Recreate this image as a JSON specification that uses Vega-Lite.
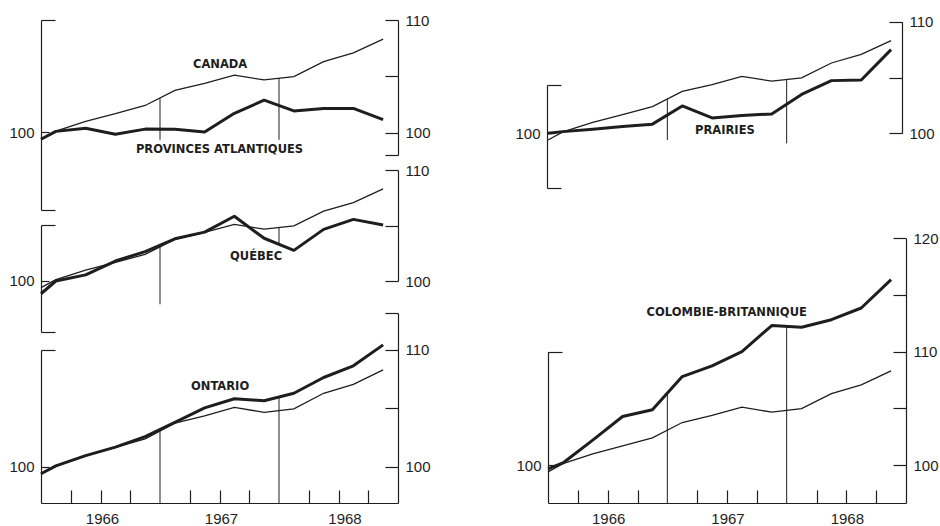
{
  "$schema": "https://vega.github.io/schema/vega-lite/v6.json",
  "width": 940,
  "height": 503,
  "autosize": {"type": "none"},
  "padding": {"left": 0, "top": 0, "right": 0, "bottom": 23},
  "background": "#ffffff",
  "config": {
    "view": {"stroke": null},
    "axis": {
      "grid": false,
      "domainColor": "#1e1e1e",
      "domainWidth": 1.2,
      "tickColor": "#1e1e1e",
      "tickWidth": 1.2,
      "labelColor": "#1e1e1e",
      "labelFont": "Liberation Sans",
      "labelFontSize": 15,
      "labelOverlap": false,
      "labelFlush": false,
      "labelBound": false
    },
    "line": {"color": "#1e1e1e"},
    "rule": {"color": "#1e1e1e"},
    "text": {"color": "#1e1e1e"}
  },
  "datasets": {
    "canada": [
      {"t": 0, "value": 99.4}, {"t": 0.5, "value": 100.12}, {"t": 1.5, "value": 100.98}, {"t": 2.5, "value": 101.68},
      {"t": 3.5, "value": 102.4}, {"t": 4.5, "value": 103.75}, {"t": 5.5, "value": 104.37}, {"t": 6.5, "value": 105.1},
      {"t": 7.5, "value": 104.67}, {"t": 8.5, "value": 104.97}, {"t": 9.5, "value": 106.3}, {"t": 10.5, "value": 107.07},
      {"t": 11.5, "value": 108.3}
    ],
    "regions": [
      {"panel": "atl", "t": 0, "value": 99.4}, {"panel": "atl", "t": 0.5, "value": 100.1}, {"panel": "atl", "t": 1.5, "value": 100.37},
      {"panel": "atl", "t": 2.5, "value": 99.85}, {"panel": "atl", "t": 3.5, "value": 100.3}, {"panel": "atl", "t": 4.5, "value": 100.29},
      {"panel": "atl", "t": 5.5, "value": 100.04}, {"panel": "atl", "t": 6.5, "value": 101.71}, {"panel": "atl", "t": 7.5, "value": 102.87},
      {"panel": "atl", "t": 8.5, "value": 101.92}, {"panel": "atl", "t": 9.5, "value": 102.14}, {"panel": "atl", "t": 10.5, "value": 102.14},
      {"panel": "atl", "t": 11.5, "value": 101.15},
      {"panel": "que", "t": 0, "value": 98.85}, {"panel": "que", "t": 0.5, "value": 100.0}, {"panel": "que", "t": 1.5, "value": 100.55},
      {"panel": "que", "t": 2.5, "value": 101.8}, {"panel": "que", "t": 3.5, "value": 102.65}, {"panel": "que", "t": 4.5, "value": 103.8},
      {"panel": "que", "t": 5.5, "value": 104.4}, {"panel": "que", "t": 6.5, "value": 105.83}, {"panel": "que", "t": 7.5, "value": 103.85},
      {"panel": "que", "t": 8.5, "value": 102.76}, {"panel": "que", "t": 9.5, "value": 104.65}, {"panel": "que", "t": 10.5, "value": 105.55},
      {"panel": "que", "t": 11.5, "value": 105.05},
      {"panel": "ont", "t": 0, "value": 99.42}, {"panel": "ont", "t": 0.5, "value": 100.1}, {"panel": "ont", "t": 1.5, "value": 100.97},
      {"panel": "ont", "t": 2.5, "value": 101.7}, {"panel": "ont", "t": 3.5, "value": 102.6}, {"panel": "ont", "t": 4.5, "value": 103.82},
      {"panel": "ont", "t": 5.5, "value": 105.05}, {"panel": "ont", "t": 6.5, "value": 105.83}, {"panel": "ont", "t": 7.5, "value": 105.66},
      {"panel": "ont", "t": 8.5, "value": 106.3}, {"panel": "ont", "t": 9.5, "value": 107.65}, {"panel": "ont", "t": 10.5, "value": 108.65},
      {"panel": "ont", "t": 11.5, "value": 110.44},
      {"panel": "pra", "t": 0, "value": 100.0}, {"panel": "pra", "t": 0.5, "value": 100.15}, {"panel": "pra", "t": 1.5, "value": 100.36},
      {"panel": "pra", "t": 2.5, "value": 100.6}, {"panel": "pra", "t": 3.5, "value": 100.82}, {"panel": "pra", "t": 4.5, "value": 102.45},
      {"panel": "pra", "t": 5.5, "value": 101.38}, {"panel": "pra", "t": 6.5, "value": 101.6}, {"panel": "pra", "t": 7.5, "value": 101.73},
      {"panel": "pra", "t": 8.5, "value": 103.48}, {"panel": "pra", "t": 9.5, "value": 104.72}, {"panel": "pra", "t": 10.5, "value": 104.78},
      {"panel": "pra", "t": 11.5, "value": 107.5},
      {"panel": "cb", "t": 0, "value": 99.65}, {"panel": "cb", "t": 0.5, "value": 100.18}, {"panel": "cb", "t": 1.5, "value": 102.2},
      {"panel": "cb", "t": 2.5, "value": 104.28}, {"panel": "cb", "t": 3.5, "value": 104.87}, {"panel": "cb", "t": 4.5, "value": 107.8},
      {"panel": "cb", "t": 5.5, "value": 108.75}, {"panel": "cb", "t": 6.5, "value": 110.0}, {"panel": "cb", "t": 7.5, "value": 112.3},
      {"panel": "cb", "t": 8.5, "value": 112.15}, {"panel": "cb", "t": 9.5, "value": 112.82}, {"panel": "cb", "t": 10.5, "value": 113.85},
      {"panel": "cb", "t": 11.5, "value": 116.35}
    ],
    "yearlines": [
      {"panel": "atl", "t": 4, "low": 99.35, "high": 103.05}, {"panel": "atl", "t": 8, "low": 99.35, "high": 104.83},
      {"panel": "que", "t": 4, "low": 97.9, "high": 103.2}, {"panel": "que", "t": 8, "low": 103.35, "high": 104.83},
      {"panel": "ont", "t": 4, "low": 96.923, "high": 103.25}, {"panel": "ont", "t": 8, "low": 96.923, "high": 105.95},
      {"panel": "pra", "t": 4, "low": 99.4, "high": 103.05}, {"panel": "pra", "t": 8, "low": 99.1, "high": 104.83},
      {"panel": "cb", "t": 4, "low": 96.648, "high": 106.3}, {"panel": "cb", "t": 8, "low": 96.648, "high": 112.25}
    ],
    "labels": [
      {"panel": "atl", "t": 6.02, "value": 106.0, "label": "CANADA"},
      {"panel": "atl", "t": 6.0, "value": 98.44, "label": "PROVINCES ATLANTIQUES"},
      {"panel": "que", "t": 7.23, "value": 102.16, "label": "QUÉBEC"},
      {"panel": "ont", "t": 6.02, "value": 106.86, "label": "ONTARIO"},
      {"panel": "pra", "t": 5.93, "value": 100.2, "label": "PRAIRIES"},
      {"panel": "cb", "t": 5.99, "value": 113.45, "label": "COLOMBIE-BRITANNIQUE"}
    ]
  },
  "resolve": {"scale": {"x": "independent", "y": "independent"}},
  "layer": [
    {
      "data": {"name": "regions"},
      "transform": [{"filter": "datum.panel === 'atl'"}],
      "mark": {"type": "line", "strokeWidth": 3, "strokeJoin": "round"},
      "encoding": {
        "x": {"field": "t", "type": "quantitative", "scale": {"domain": [0, 12], "range": [41, 398], "nice": false, "zero": false}, "axis": null},
        "y": {"field": "value", "type": "quantitative", "scale": {"domain": [93.11, 110], "range": [210, 20], "zero": false, "nice": false},
          "axis": {"orient": "left", "offset": -41, "values": [93.11, 100, 110], "title": null,
            "tickSize": {"condition": {"test": "datum.value === 100", "value": -8}, "value": -14},
            "labelPadding": 15, "labelExpr": "datum.value === 100 ? '100' : ''"}}
      }
    },
    {
      "data": {"name": "yearlines"},
      "transform": [{"filter": "datum.panel === 'atl'"}],
      "mark": {"type": "rule", "strokeWidth": 1},
      "encoding": {
        "x": {"field": "t", "type": "quantitative", "scale": {"domain": [0, 12], "range": [41, 398], "nice": false, "zero": false}, "axis": null},
        "y": {"field": "low", "type": "quantitative", "scale": {"domain": [93.11, 110], "range": [210, 20], "zero": false, "nice": false}, "axis": null},
        "y2": {"field": "high"}
      }
    },
    {
      "data": {"name": "labels"},
      "transform": [{"filter": "datum.panel === 'atl'"}],
      "mark": {"type": "text", "font": "DejaVu Sans", "fontWeight": "bold", "fontSize": 11.5, "align": "center", "baseline": "middle"},
      "encoding": {
        "x": {"field": "t", "type": "quantitative", "scale": {"domain": [0, 12], "range": [41, 398], "nice": false, "zero": false}, "axis": null},
        "y": {"field": "value", "type": "quantitative", "scale": {"domain": [93.11, 110], "range": [210, 20], "zero": false, "nice": false}, "axis": null},
        "text": {"field": "label"}
      }
    },
    {
      "data": {"name": "canada"},
      "mark": {"type": "line", "strokeWidth": 1.3},
      "encoding": {
        "x": {"field": "t", "type": "quantitative", "scale": {"domain": [0, 12], "range": [41, 398], "nice": false, "zero": false}, "axis": null},
        "y": {"field": "value", "type": "quantitative", "scale": {"domain": [98, 110], "range": [155, 20], "zero": false, "nice": false},
          "axis": {"orient": "right", "offset": -542, "values": [98, 100, 105, 110], "title": null, "tickSize": -13, "labelPadding": 20,
            "labelExpr": "datum.value === 100 || datum.value === 110 || datum.value === 120 ? format(datum.value, 'd') : ''"}}
      }
    },
    {
      "data": {"name": "regions"},
      "transform": [{"filter": "datum.panel === 'que'"}],
      "mark": {"type": "line", "strokeWidth": 3, "strokeJoin": "round"},
      "encoding": {
        "x": {"field": "t", "type": "quantitative", "scale": {"domain": [0, 12], "range": [41, 398], "nice": false, "zero": false}, "axis": null},
        "y": {"field": "value", "type": "quantitative", "scale": {"domain": [95.405, 105.045], "range": [332, 225], "zero": false, "nice": false},
          "axis": {"orient": "left", "offset": -41, "values": [95.405, 100, 105.045], "title": null,
            "tickSize": {"condition": {"test": "datum.value === 100", "value": -8}, "value": -14},
            "labelPadding": 15, "labelExpr": "datum.value === 100 ? '100' : ''"}}
      }
    },
    {
      "data": {"name": "yearlines"},
      "transform": [{"filter": "datum.panel === 'que'"}],
      "mark": {"type": "rule", "strokeWidth": 1},
      "encoding": {
        "x": {"field": "t", "type": "quantitative", "scale": {"domain": [0, 12], "range": [41, 398], "nice": false, "zero": false}, "axis": null},
        "y": {"field": "low", "type": "quantitative", "scale": {"domain": [95.405, 105.045], "range": [332, 225], "zero": false, "nice": false}, "axis": null},
        "y2": {"field": "high"}
      }
    },
    {
      "data": {"name": "labels"},
      "transform": [{"filter": "datum.panel === 'que'"}],
      "mark": {"type": "text", "font": "DejaVu Sans", "fontWeight": "bold", "fontSize": 11.5, "align": "center", "baseline": "middle"},
      "encoding": {
        "x": {"field": "t", "type": "quantitative", "scale": {"domain": [0, 12], "range": [41, 398], "nice": false, "zero": false}, "axis": null},
        "y": {"field": "value", "type": "quantitative", "scale": {"domain": [95.405, 105.045], "range": [332, 225], "zero": false, "nice": false}, "axis": null},
        "text": {"field": "label"}
      }
    },
    {
      "data": {"name": "canada"},
      "mark": {"type": "line", "strokeWidth": 1.3},
      "encoding": {
        "x": {"field": "t", "type": "quantitative", "scale": {"domain": [0, 12], "range": [41, 398], "nice": false, "zero": false}, "axis": null},
        "y": {"field": "value", "type": "quantitative", "scale": {"domain": [100, 110], "range": [281, 170], "zero": false, "nice": false},
          "axis": {"orient": "right", "offset": -542, "values": [100, 105, 110], "title": null, "tickSize": -13, "labelPadding": 20,
            "labelExpr": "datum.value === 100 || datum.value === 110 || datum.value === 120 ? format(datum.value, 'd') : ''"}}
      }
    },
    {
      "data": {"name": "regions"},
      "transform": [{"filter": "datum.panel === 'ont'"}],
      "mark": {"type": "line", "strokeWidth": 3, "strokeJoin": "round"},
      "encoding": {
        "x": {"field": "t", "type": "quantitative", "scale": {"domain": [0, 12], "range": [41, 398], "nice": false, "zero": false},
          "axis": {"orient": "bottom", "values": [1, 2, 3, 5, 6, 7, 9, 10, 11], "title": null, "tickSize": -13, "labelPadding": 21,
            "labelExpr": "datum.value === 2 ? '1966' : datum.value === 6 ? '1967' : datum.value === 10 ? '1968' : ''",
            "labelOffset": {"condition": {"test": "datum.value === 10", "value": 6}, "value": 1.5}}},
        "y": {"field": "value", "type": "quantitative", "scale": {"domain": [96.923, 110], "range": [503, 350], "zero": false, "nice": false},
          "axis": {"orient": "left", "offset": -41, "values": [100, 110], "title": null,
            "tickSize": {"condition": {"test": "datum.value === 100", "value": -8}, "value": -14},
            "labelPadding": 15, "labelExpr": "datum.value === 100 ? '100' : ''"}}
      }
    },
    {
      "data": {"name": "yearlines"},
      "transform": [{"filter": "datum.panel === 'ont'"}],
      "mark": {"type": "rule", "strokeWidth": 1},
      "encoding": {
        "x": {"field": "t", "type": "quantitative", "scale": {"domain": [0, 12], "range": [41, 398], "nice": false, "zero": false}, "axis": null},
        "y": {"field": "low", "type": "quantitative", "scale": {"domain": [96.923, 110], "range": [503, 350], "zero": false, "nice": false}, "axis": null},
        "y2": {"field": "high"}
      }
    },
    {
      "data": {"name": "labels"},
      "transform": [{"filter": "datum.panel === 'ont'"}],
      "mark": {"type": "text", "font": "DejaVu Sans", "fontWeight": "bold", "fontSize": 11.5, "align": "center", "baseline": "middle"},
      "encoding": {
        "x": {"field": "t", "type": "quantitative", "scale": {"domain": [0, 12], "range": [41, 398], "nice": false, "zero": false}, "axis": null},
        "y": {"field": "value", "type": "quantitative", "scale": {"domain": [96.923, 110], "range": [503, 350], "zero": false, "nice": false}, "axis": null},
        "text": {"field": "label"}
      }
    },
    {
      "data": {"name": "canada"},
      "mark": {"type": "line", "strokeWidth": 1.3},
      "encoding": {
        "x": {"field": "t", "type": "quantitative", "scale": {"domain": [0, 12], "range": [41, 398], "nice": false, "zero": false}, "axis": null},
        "y": {"field": "value", "type": "quantitative", "scale": {"domain": [96.923, 113.162], "range": [503, 313], "zero": false, "nice": false},
          "axis": {"orient": "right", "offset": -542, "values": [100, 105, 110, 113.162], "title": null, "tickSize": -13, "labelPadding": 20,
            "labelExpr": "datum.value === 100 || datum.value === 110 || datum.value === 120 ? format(datum.value, 'd') : ''"}}
      }
    },
    {
      "data": {"name": "regions"},
      "transform": [{"filter": "datum.panel === 'pra'"}],
      "mark": {"type": "line", "strokeWidth": 3, "strokeJoin": "round"},
      "encoding": {
        "x": {"field": "t", "type": "quantitative", "scale": {"domain": [0, 12], "range": [548, 906], "nice": false, "zero": false}, "axis": null},
        "y": {"field": "value", "type": "quantitative", "scale": {"domain": [95.099, 104.328], "range": [188, 85], "zero": false, "nice": false},
          "axis": {"orient": "left", "offset": -547, "values": [95.099, 100, 104.328], "title": null,
            "tickSize": {"condition": {"test": "datum.value === 100", "value": -8}, "value": -14},
            "labelPadding": 15, "labelExpr": "datum.value === 100 ? '100' : ''"}}
      }
    },
    {
      "data": {"name": "yearlines"},
      "transform": [{"filter": "datum.panel === 'pra'"}],
      "mark": {"type": "rule", "strokeWidth": 1},
      "encoding": {
        "x": {"field": "t", "type": "quantitative", "scale": {"domain": [0, 12], "range": [548, 906], "nice": false, "zero": false}, "axis": null},
        "y": {"field": "low", "type": "quantitative", "scale": {"domain": [95.099, 104.328], "range": [188, 85], "zero": false, "nice": false}, "axis": null},
        "y2": {"field": "high"}
      }
    },
    {
      "data": {"name": "labels"},
      "transform": [{"filter": "datum.panel === 'pra'"}],
      "mark": {"type": "text", "font": "DejaVu Sans", "fontWeight": "bold", "fontSize": 11.5, "align": "center", "baseline": "middle"},
      "encoding": {
        "x": {"field": "t", "type": "quantitative", "scale": {"domain": [0, 12], "range": [548, 906], "nice": false, "zero": false}, "axis": null},
        "y": {"field": "value", "type": "quantitative", "scale": {"domain": [95.099, 104.328], "range": [188, 85], "zero": false, "nice": false}, "axis": null},
        "text": {"field": "label"}
      }
    },
    {
      "data": {"name": "canada"},
      "mark": {"type": "line", "strokeWidth": 1.3},
      "encoding": {
        "x": {"field": "t", "type": "quantitative", "scale": {"domain": [0, 12], "range": [548, 906], "nice": false, "zero": false}, "axis": null},
        "y": {"field": "value", "type": "quantitative", "scale": {"domain": [100, 110], "range": [133.3, 21.7], "zero": false, "nice": false},
          "axis": {"orient": "right", "offset": -38, "values": [100, 105, 110], "title": null, "tickSize": -13, "labelPadding": 20,
            "labelExpr": "datum.value === 100 || datum.value === 110 || datum.value === 120 ? format(datum.value, 'd') : ''"}}
      }
    },
    {
      "data": {"name": "regions"},
      "transform": [{"filter": "datum.panel === 'cb'"}],
      "mark": {"type": "line", "strokeWidth": 3, "strokeJoin": "round"},
      "encoding": {
        "x": {"field": "t", "type": "quantitative", "scale": {"domain": [0, 12], "range": [548, 906], "nice": false, "zero": false},
          "axis": {"orient": "bottom", "values": [1, 2, 3, 5, 6, 7, 9, 10, 11], "title": null, "tickSize": -13, "labelPadding": 21,
            "labelExpr": "datum.value === 2 ? '1966' : datum.value === 6 ? '1967' : datum.value === 10 ? '1968' : ''",
            "labelOffset": 0.5}},
        "y": {"field": "value", "type": "quantitative", "scale": {"domain": [96.648, 110], "range": [503, 351.65], "zero": false, "nice": false},
          "axis": {"orient": "left", "offset": -548, "values": [100, 110], "title": null,
            "tickSize": {"condition": {"test": "datum.value === 100", "value": -8}, "value": -14},
            "labelPadding": 15, "labelExpr": "datum.value === 100 ? '100' : ''"}}
      }
    },
    {
      "data": {"name": "yearlines"},
      "transform": [{"filter": "datum.panel === 'cb'"}],
      "mark": {"type": "rule", "strokeWidth": 1},
      "encoding": {
        "x": {"field": "t", "type": "quantitative", "scale": {"domain": [0, 12], "range": [548, 906], "nice": false, "zero": false}, "axis": null},
        "y": {"field": "low", "type": "quantitative", "scale": {"domain": [96.648, 110], "range": [503, 351.65], "zero": false, "nice": false}, "axis": null},
        "y2": {"field": "high"}
      }
    },
    {
      "data": {"name": "labels"},
      "transform": [{"filter": "datum.panel === 'cb'"}],
      "mark": {"type": "text", "font": "DejaVu Sans", "fontWeight": "bold", "fontSize": 11.5, "align": "center", "baseline": "middle"},
      "encoding": {
        "x": {"field": "t", "type": "quantitative", "scale": {"domain": [0, 12], "range": [548, 906], "nice": false, "zero": false}, "axis": null},
        "y": {"field": "value", "type": "quantitative", "scale": {"domain": [96.648, 110], "range": [503, 351.65], "zero": false, "nice": false}, "axis": null},
        "text": {"field": "label"}
      }
    },
    {
      "data": {"name": "canada"},
      "mark": {"type": "line", "strokeWidth": 1.3},
      "encoding": {
        "x": {"field": "t", "type": "quantitative", "scale": {"domain": [0, 12], "range": [548, 906], "nice": false, "zero": false}, "axis": null},
        "y": {"field": "value", "type": "quantitative", "scale": {"domain": [96.648, 120], "range": [503, 238.3], "zero": false, "nice": false},
          "axis": {"orient": "right", "offset": -34, "values": [100, 105, 110, 115, 120], "title": null, "tickSize": -13, "labelPadding": 20,
            "labelExpr": "datum.value === 100 || datum.value === 110 || datum.value === 120 ? format(datum.value, 'd') : ''"}}
      }
    }
  ]
}
